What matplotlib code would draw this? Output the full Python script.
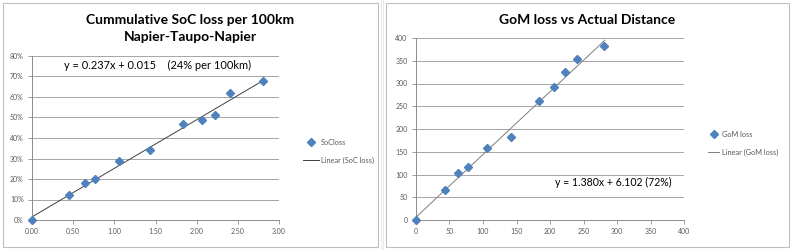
import matplotlib.pyplot as plt
import numpy as np
from matplotlib.patches import Rectangle

# SoC loss chart (distance in 100 km, SoC loss in %)
soc_dist = [0.00, 0.45, 0.64, 0.77, 1.06, 1.43, 1.84, 2.07, 2.22, 2.40, 2.81]
soc_loss = [0, 12, 18, 20, 29, 34, 47, 49, 51, 62, 68]
soc_slope, soc_icpt = 0.237, 0.015

# GoM loss chart
gom_dist = [0, 44, 62, 77, 106, 142, 184, 206, 222, 241, 280]
gom_loss = [0, 65, 104, 116, 159, 183, 262, 293, 326, 354, 382]
gom_slope, gom_icpt = 1.380, 6.102

blue = '#4F81BD'
grid_c = '#A6A6A6'
txt_c = '#595959'
font = 'Lato'

fig = plt.figure(figsize=(7.91, 2.5), dpi=100)
fig.patch.set_facecolor('white')

W, H = 791.0, 250.0
def fx(px): return px / W
def fy(py): return 1 - py / H

# faint spreadsheet cell lines behind the charts
for xp in [381, 383]:
    fig.add_artist(plt.Line2D([fx(xp), fx(xp)], [0, 1], color='#E4E4E4',
                              lw=0.6, zorder=-2))

# chart panels
for x0, x1 in [(3, 378), (386, 789)]:
    fig.add_artist(Rectangle((fx(x0), fy(247)), fx(x1) - fx(x0), fy(3) - fy(247),
                             facecolor='white', edgecolor='#BFBFBF', lw=0.8,
                             zorder=-1))

def style(ax):
    ax.set_facecolor('none')
    for s in ['top', 'right']:
        ax.spines[s].set_visible(False)
    for s in ['left', 'bottom']:
        ax.spines[s].set_color('#8C8C8C')
        ax.spines[s].set_linewidth(0.7)
    ax.yaxis.grid(True, color=grid_c, lw=0.7)
    ax.set_axisbelow(True)
    ax.tick_params(labelsize=5, labelcolor=txt_c, color='#8C8C8C',
                   length=3, width=0.6, pad=3)
    for lab in ax.get_xticklabels() + ax.get_yticklabels():
        lab.set_fontfamily(font)

# ---- left chart
ax1 = fig.add_axes([fx(32), fy(220), fx(279) - fx(32), fy(56) - fy(220)])
xs = np.array([0, 2.81])
ax1.plot(xs, (soc_slope * xs + soc_icpt) * 100, color='#404040', lw=0.7,
         label='Linear (SoC loss)')
ax1.plot(soc_dist, soc_loss, 'D', color=blue, ms=3.6, mec=blue,
         label='SoCloss', clip_on=False, zorder=3)
ax1.set_xlim(0, 3)
ax1.set_ylim(0, 80)
ax1.set_xticks(np.arange(0, 3.01, 0.5))
ax1.set_xticklabels(['%.2f' % v for v in np.arange(0, 3.01, 0.5)])
ax1.set_yticks(range(0, 81, 10))
ax1.set_yticklabels(['%d%%' % v for v in range(0, 81, 10)])
style(ax1)
ax1.text(1.53, 75.5, 'y = 0.237x + 0.015    (24% per 100km)', ha='center',
         va='center', fontsize=7.9, color='black', family=font)
fig.text(fx(190), fy(20), 'Cummulative SoC loss per 100km', ha='center',
         va='center', fontsize=10, fontweight='bold', family=font)
fig.text(fx(190), fy(37), 'Napier-Taupo-Napier', ha='center',
         va='center', fontsize=10, fontweight='bold', family=font)
h, l = ax1.get_legend_handles_labels()
ax1.legend(h[::-1], l[::-1], loc='upper left', bbox_to_anchor=(fx(296), fy(132)),
           bbox_transform=fig.transFigure, frameon=False,
           handlelength=2.2, labelspacing=1.5, handletextpad=0.3,
           prop={'family': font, 'size': 5.3}, labelcolor=txt_c)

# ---- right chart
ax2 = fig.add_axes([fx(416), fy(220), fx(684) - fx(416), fy(38) - fy(220)])
xs = np.array([0, 282])
ax2.plot(xs, gom_slope * xs + gom_icpt, color='#7F7F7F', lw=0.7,
         label='Linear (GoM loss)')
ax2.plot(gom_dist, gom_loss, 'D', color=blue, ms=3.6, mec=blue,
         label='GoM loss', clip_on=False, zorder=3)
ax2.set_xlim(0, 400)
ax2.set_ylim(0, 400)
ax2.set_xticks(range(0, 401, 50))
ax2.set_yticks(range(0, 401, 50))
style(ax2)
ax2.text(294, 83, 'y = 1.380x + 6.102 (72%)', ha='center', va='center',
         fontsize=7.6, color='black', family=font)
fig.text(fx(587), fy(20), 'GoM loss vs Actual Distance', ha='center',
         va='center', fontsize=10, fontweight='bold', family=font)
h, l = ax2.get_legend_handles_labels()
ax2.legend(h[::-1], l[::-1], loc='upper left', bbox_to_anchor=(fx(701), fy(124)),
           bbox_transform=fig.transFigure, frameon=False,
           handlelength=1.6, labelspacing=1.5, handletextpad=0.3,
           prop={'family': font, 'size': 5.3}, labelcolor=txt_c)

fig.savefig('out.png', dpi=100)
